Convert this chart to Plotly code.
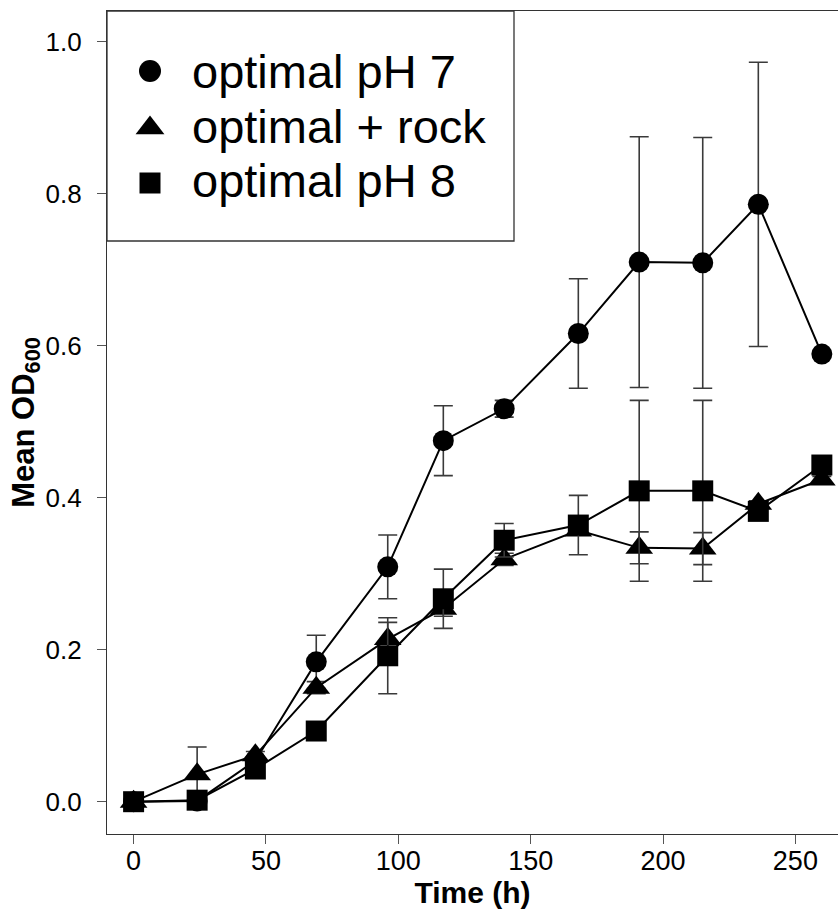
import plotly.graph_objects as go

# sampling times (h)
time_h = [0, 24, 46, 69, 96, 117, 140, 168, 191, 215, 236, 260]

# mean OD600 and SD per condition
ph7_mean = [0.000, 0.001, 0.054, 0.184, 0.309, 0.475, 0.517, 0.616, 0.710, 0.709, 0.786, 0.589]
ph7_sd = [0.0, 0.0, 0.004, 0.035, 0.042, 0.046, 0.011, 0.072, 0.165, 0.165, 0.187, 0.0]

rock_mean = [0.000, 0.036, 0.061, 0.150, 0.214, 0.254, 0.319, 0.357, 0.334, 0.333, 0.392, 0.424]
rock_sd = [0.0, 0.036, 0.005, 0.008, 0.022, 0.010, 0.008, 0.005, 0.021, 0.021, 0.004, 0.004]

ph8_mean = [0.000, 0.002, 0.043, 0.093, 0.192, 0.267, 0.344, 0.364, 0.409, 0.409, 0.382, 0.443]
ph8_sd = [0.0, 0.0, 0.004, 0.0, 0.050, 0.039, 0.022, 0.039, 0.119, 0.119, 0.004, 0.004]

legend_labels = ["optimal pH 7", "optimal + rock", "optimal pH 8"]

FONT = "Liberation Sans, Arial, sans-serif"
W, H = 838, 914
L, R, T, B = 107, 0, 11, 80

fig = go.Figure()

series = [
    (ph7_mean, ph7_sd, "circle", 21),
    (rock_mean, rock_sd, "triangle-up", 24),
    (ph8_mean, ph8_sd, "square", 21),
]
for (y, sd, sym, size), name in zip(series, legend_labels):
    fig.add_trace(go.Scatter(
        x=time_h, y=y, name=name, mode="lines+markers",
        line=dict(color="black", width=2),
        marker=dict(symbol=sym, size=size, color="black", opacity=1),
        error_y=dict(type="data", array=sd, visible=True,
                     color="#3a3a3a", thickness=1.6, width=9.5),
        cliponaxis=False, showlegend=False,
    ))

# legend drawn on a pixel overlay axis (x2/y2) so it can be sized like the original
leg_x_marker = 150
leg_x_text = 190
leg_rows = [71, 126, 180]
leg_marker_y = [71, 128, 183]
leg_sizes = [22, 25, 21]
for (_, _, sym, _), yy, sz in zip(series, leg_marker_y, leg_sizes):
    fig.add_trace(go.Scatter(
        x=[leg_x_marker], y=[yy], mode="markers",
        marker=dict(symbol=sym, size=sz, color="#000000", opacity=1,
                    line=dict(width=0)),
        xaxis="x2", yaxis="y2", showlegend=False, hoverinfo="skip",
    ))
for lab, yy in zip(legend_labels, leg_rows):
    fig.add_annotation(x=leg_x_text, y=yy, xref="x2", yref="y2", text=lab,
                       showarrow=False, xanchor="left", yanchor="middle",
                       font=dict(family=FONT, size=47, color="black"))
fig.add_shape(type="rect", xref="x2", yref="y2", x0=L, x1=514, y0=T, y1=241,
              line=dict(color="#333333", width=1.3), fillcolor="rgba(0,0,0,0)", layer="below")

fig.update_layout(
    width=W, height=H,
    margin=dict(l=L, r=R, t=T, b=B, pad=0, autoexpand=False),
    paper_bgcolor="white", plot_bgcolor="white",
    font=dict(family=FONT, color="black"),
    xaxis=dict(
        range=[-10.05, 266.1], tickvals=[0, 50, 100, 150, 200, 250],
        ticks="outside", ticklen=9, tickwidth=1.3, tickcolor="#555555",
        tickfont=dict(size=27), ticklabelstandoff=-7, automargin=False,
        showline=True, linecolor="#333333", linewidth=1.3, mirror=True,
        showgrid=False, zeroline=False,
        title=dict(text="<b>Time (h)</b>", font=dict(size=30), standoff=4),
    ),
    yaxis=dict(
        range=[-0.0425, 1.0404], tickvals=[0, 0.2, 0.4, 0.6, 0.8, 1.0],
        tickformat=".1f", automargin=False,
        ticks="outside", ticklen=9, tickwidth=1.3, tickcolor="#555555",
        tickfont=dict(size=26), ticklabelstandoff=10,
        showline=True, linecolor="#333333", linewidth=1.3, mirror=False,
        showgrid=False, zeroline=False,
        title=dict(text="<b>Mean OD<sub>600</sub></b>", font=dict(size=31), standoff=0),
    ),
    xaxis2=dict(range=[L, W - R], overlaying="x", visible=False, fixedrange=True),
    yaxis2=dict(range=[H - B, T], overlaying="y", visible=False, fixedrange=True),
)

# page body has a default 8px margin; drop it so the figure sits at the window corner
fig.write_html("out.html", config={"displayModeBar": False},
               post_script="document.body.style.margin='0';document.body.style.overflow='hidden';")
